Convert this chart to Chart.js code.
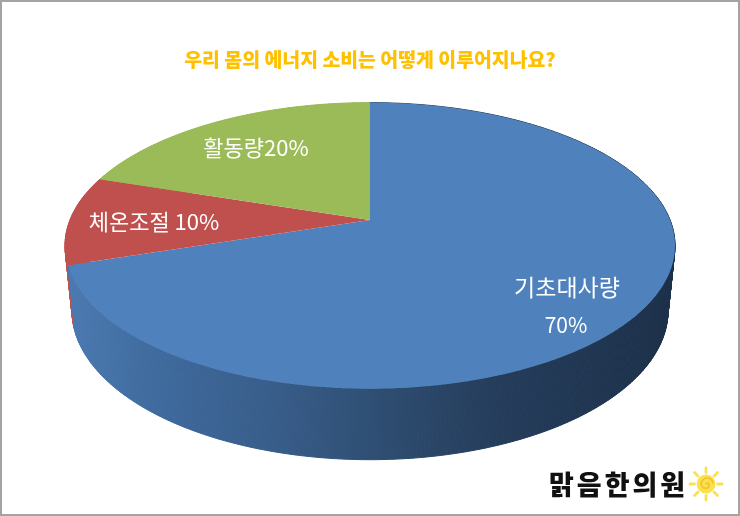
<!DOCTYPE html>
<html lang="ko">
<head>
<meta charset="utf-8">
<style>
html,body{margin:0;padding:0;background:#fff;}
#wrap{position:relative;width:740px;height:516px;overflow:hidden;}
#frame{position:absolute;left:0;top:0;width:740px;height:516px;box-sizing:border-box;border:2px solid #a3a3a3;pointer-events:none;}
#logo{position:absolute;left:549px;top:465px;font:900 27px "Noto Sans CJK KR",sans-serif;letter-spacing:3px;color:#111;line-height:38px;white-space:nowrap;}
#sun{position:absolute;left:688px;top:466px;}
</style>
<script src="https://cdn.jsdelivr.net/npm/chart.js@4/dist/chart.umd.min.js"></script>
</head>
<body>
<div id="wrap">
<canvas id="c" width="740" height="516"></canvas>
<div id="logo">맑음한의원</div>
<svg id="sun" width="36" height="36" viewBox="-18 -18 36 36">
  <g stroke="#fbe04f" stroke-width="2.8" stroke-linecap="round">
    <line x1="0" y1="-11.5" x2="0" y2="-16"/><line x1="0" y1="11.5" x2="0" y2="16"/>
    <line x1="-11.5" y1="0" x2="-16" y2="0"/><line x1="11.5" y1="0" x2="16" y2="0"/>
    <line x1="8" y1="-8" x2="11.5" y2="-11.5"/><line x1="-8" y1="-8" x2="-11.5" y2="-11.5"/>
    <line x1="8" y1="8" x2="11.5" y2="11.5"/><line x1="-8" y1="8" x2="-11.5" y2="11.5"/>
  </g>
  <circle r="9.4" fill="#fbe04f"/>
  <path d="M0 0 C2 -2 4 0 3 2.5 C2 5 -3 5 -4.5 2 C-6 -2 -3 -6 1 -6 C4 -6 6.5 -4 7 -1" fill="none" stroke="#f3c227" stroke-width="1.6" stroke-linecap="round"/>
</svg>
<div id="frame"></div>
</div>
<script>
const categories = ['기초대사량', '체온조절', '활동량'];
const shares = [70, 10, 20];
const sliceColors = ['#4f81bd', '#c0504d', '#9bbb59'];
const titleText = '우리 몸의 에너지 소비는 어떻게 이루어지나요?';
const labelLines = [['기초대사량', '70%'], ['체온조절 10%'], ['활동량20%']];

// Appearance of the tilted disc
const tilt = 0.469, apexShift = 0.18, depthY = 65, baseScale = 298 / 305, baseTilt = 149 / 143;
const wallStops = [[0, '#4a79b0'], [0.12, '#406ca0'], [0.35, '#375c88'], [0.5, '#2f4f74'], [0.68, '#263f5e'], [1, '#1c3049']];
const labelSpots = [[[567, 287], [566, 325]], [[154, 222]], [[256, 148]]];
const labelSizes = [[23, 21], [22], [22]];

// Perspective mapping of a point on the library's arc to the page
function project(el, theta, level) {
  const u = Math.cos(theta), v = -Math.sin(theta);
  const s = Math.sqrt(1 - apexShift * apexShift), d = 1 + apexShift * v;
  const X = u * s / d, Y = (v + apexShift) / d;
  const rx = el.outerRadius * (1 + (baseScale - 1) * level);
  const ry = el.outerRadius * tilt * (1 + (baseTilt - 1) * level);
  return [el.x + X * rx, el.y - Y * ry + depthY * level];
}

const tiltedPie = {
  id: 'tiltedPie',
  beforeDatasetDraw(chart, args) {
    const ctx = chart.ctx, arcs = chart.getDatasetMeta(args.index).data;
    const first = arcs[0];
    const left = first.x - first.outerRadius, right = first.x + first.outerRadius;
    const grad = ctx.createLinearGradient(left + 8, 0, right - 8, 0);
    wallStops.forEach(s => grad.addColorStop(s[0], s[1]));
    ctx.save();
    // side walls, rear slices first
    [2, 1, 0].forEach(i => {
      const el = arcs[i];
      const steps = Math.max(8, Math.round((el.endAngle - el.startAngle) * 90));
      const fill = i === 0 ? grad : el.options.backgroundColor;
      ctx.fillStyle = fill; ctx.strokeStyle = fill; ctx.lineWidth = 1;
      for (let k = 0; k < steps; k++) {
        const a = el.startAngle + (el.endAngle - el.startAngle) * k / steps;
        const b = el.startAngle + (el.endAngle - el.startAngle) * (k + 1) / steps;
        const p = [project(el, a, 0), project(el, b, 0), project(el, b, 1), project(el, a, 1)];
        ctx.beginPath();
        p.forEach((q, n) => n ? ctx.lineTo(q[0], q[1]) : ctx.moveTo(q[0], q[1]));
        ctx.closePath(); ctx.fill(); ctx.stroke();
      }
    });
    // top faces
    arcs.forEach(el => {
      const steps = Math.max(16, Math.round((el.endAngle - el.startAngle) * 120));
      const ax = el.x, ay = el.y - apexShift * el.outerRadius * tilt;
      ctx.beginPath();
      ctx.moveTo(ax, ay);
      for (let k = 0; k <= steps; k++) {
        const q = project(el, el.startAngle + (el.endAngle - el.startAngle) * k / steps, 0);
        ctx.lineTo(q[0], q[1]);
      }
      ctx.closePath();
      ctx.fillStyle = el.options.backgroundColor;
      ctx.fill();
    });
    ctx.restore();
    return false;
  },
  afterDatasetsDraw(chart) {
    const ctx = chart.ctx;
    ctx.save();
    ctx.fillStyle = '#ffffff';
    ctx.textAlign = 'center';
    ctx.textBaseline = 'middle';
    labelLines.forEach((lines, i) => lines.forEach((t, j) => {
      ctx.font = '400 ' + labelSizes[i][j] + 'px "Noto Sans CJK KR", sans-serif';
      ctx.fillText(t, labelSpots[i][j][0], labelSpots[i][j][1]);
    }));
    ctx.restore();
  }
};

new Chart(document.getElementById('c'), {
  type: 'pie',
  data: {
    labels: categories,
    datasets: [{ data: shares, backgroundColor: sliceColors, borderWidth: 0, clip: false, hoverOffset: 0 }]
  },
  options: {
    responsive: false,
    animation: false,
    devicePixelRatio: 1,
    radius: 305,
    layout: { padding: { top: 0, bottom: 106 } },
    events: [],
    plugins: {
      legend: { display: false },
      tooltip: { enabled: false },
      title: {
        display: true,
        text: titleText,
        color: '#ffc000',
        font: { family: '"Noto Sans CJK KR", sans-serif', size: 19.4, weight: '900' },
        padding: { top: 48, bottom: 10 }
      }
    }
  },
  plugins: [tiltedPie]
});
</script>
</body>
</html>
